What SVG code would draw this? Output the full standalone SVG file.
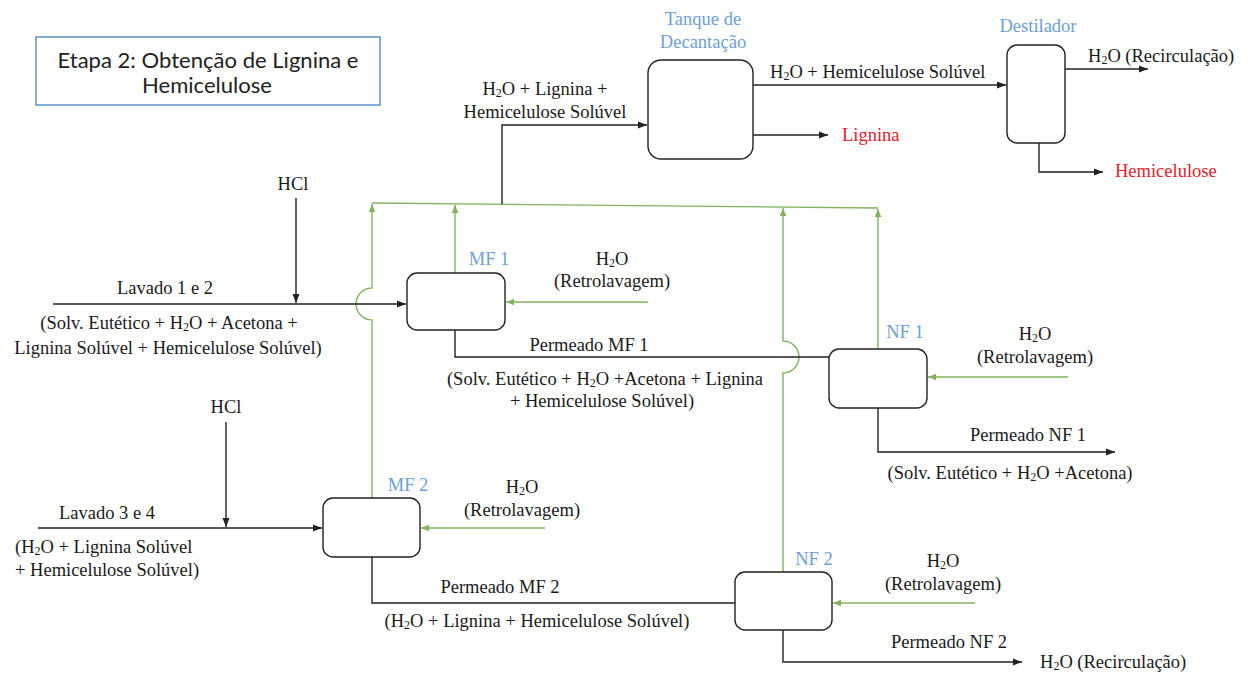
<svg xmlns="http://www.w3.org/2000/svg" width="1254" height="673" viewBox="0 0 1254 673">
<style>
text{font-family:"Liberation Serif","Times New Roman",serif;font-size:18.5px;fill:#1a1a1a}
.m{text-anchor:middle}
.sub{font-size:12px}
.blue{fill:#6c9fd6}
.red{fill:#e8202a}
.title{font-family:Lato,"Liberation Sans",sans-serif;font-size:21px;fill:#222}
.box{fill:#fff;stroke:#222;stroke-width:1.4}
.k{fill:none;stroke:#222;stroke-width:1.4}
.g{fill:none;stroke:#80b45c;stroke-width:1.4}
</style>
<defs>
<marker id="ak" markerUnits="userSpaceOnUse" markerWidth="10" markerHeight="8" refX="9" refY="4" orient="auto"><path d="M0,0.5 L9,4 L0,7.5 z" fill="#222"/></marker>
<marker id="ag" markerUnits="userSpaceOnUse" markerWidth="9" markerHeight="8" refX="8" refY="4" orient="auto"><path d="M0,0.8 L8,4 L0,7.2 z" fill="#80b45c"/></marker>
</defs>
<rect width="1254" height="673" fill="#fff"/>
<g id="connectors">
<path class="g" d="M372,203 L878,208"/>
<path class="g" d="M372,498 V320 A16,16 0 0 1 372,288 V204" marker-end="url(#ag)"/>
<path class="g" d="M455,273 V205" marker-end="url(#ag)"/>
<path class="g" d="M783,572 V373 A16,16 0 0 0 783,341 V208" marker-end="url(#ag)"/>
<path class="g" d="M878,349 V209" marker-end="url(#ag)"/>
<path class="g" d="M648,302 H506" marker-end="url(#ag)"/>
<path class="g" d="M1068,377 H928" marker-end="url(#ag)"/>
<path class="g" d="M545,528 H421" marker-end="url(#ag)"/>
<path class="g" d="M975,603 H833" marker-end="url(#ag)"/>
<path class="k" d="M53,304 H406" marker-end="url(#ak)"/>
<path class="k" d="M296,198 V303" marker-end="url(#ak)"/>
<path class="k" d="M38,528 H322" marker-end="url(#ak)"/>
<path class="k" d="M226,422 V527" marker-end="url(#ak)"/>
<path class="k" d="M455,330 V357 H829"/>
<path class="k" d="M878,408 V452 H1115" marker-end="url(#ak)"/>
<path class="k" d="M372,557 V603 H735"/>
<path class="k" d="M783,630 V662 H1022" marker-end="url(#ak)"/>
<path class="k" d="M502,204 V125 H647" marker-end="url(#ak)"/>
<path class="k" d="M753,85 H1006" marker-end="url(#ak)"/>
<path class="k" d="M753,135 H828" marker-end="url(#ak)"/>
<path class="k" d="M1065,69 H1148" marker-end="url(#ak)"/>
<path class="k" d="M1039,143 V172 H1103" marker-end="url(#ak)"/>
</g>
<g id="title">
<rect x="36" y="37" width="344" height="68" fill="#fff" stroke="#5b93c8" stroke-width="1.5"/>
<text class="title m" x="208" y="68" textLength="301" lengthAdjust="spacingAndGlyphs">Etapa 2: Obtenção de Lignina e</text>
<text class="title m" x="207" y="93" textLength="130" lengthAdjust="spacingAndGlyphs">Hemicelulose</text>
</g>
<g id="tanque">
<rect class="box" x="648" y="60" width="105" height="99" rx="13"/>
<text class="m blue" x="703" y="25">Tanque de</text>
<text class="m blue" x="703" y="48">Decantação</text>
</g>
<g id="destilador">
<rect class="box" x="1007" y="45" width="58" height="98" rx="10"/>
<text class="m blue" x="1038" y="32">Destilador</text>
</g>
<g id="mf1">
<rect class="box" x="407" y="273" width="98" height="57" rx="10"/>
<text class="m blue" x="489" y="265">MF 1</text>
</g>
<g id="nf1">
<rect class="box" x="829" y="349" width="98" height="59" rx="10"/>
<text class="m blue" x="905" y="338">NF 1</text>
</g>
<g id="mf2">
<rect class="box" x="323" y="498" width="97" height="59" rx="10"/>
<text class="m blue" x="408" y="491">MF 2</text>
</g>
<g id="nf2">
<rect class="box" x="735" y="572" width="97" height="58" rx="10"/>
<text class="m blue" x="814" y="565">NF 2</text>
</g>
<g id="labels">
<text class="m" x="545" y="95">H<tspan class="sub" dy="2">2</tspan><tspan dy="-2">O + Lignina +</tspan></text>
<text class="m" x="545" y="118">Hemicelulose Solúvel</text>
<text x="770" y="78">H<tspan class="sub" dy="2">2</tspan><tspan dy="-2">O + Hemicelulose Solúvel</tspan></text>
<text class="red" x="842" y="141">Lignina</text>
<text x="1088" y="62">H<tspan class="sub" dy="2">2</tspan><tspan dy="-2">O (Recirculação)</tspan></text>
<text class="red" x="1115" y="177">Hemicelulose</text>
<text class="m" x="293" y="190">HCl</text>
<text class="m" x="165" y="294">Lavado 1 e 2</text>
<text class="m" x="169" y="329">(Solv. Eutético + H<tspan class="sub" dy="2">2</tspan><tspan dy="-2">O + Acetona +</tspan></text>
<text class="m" x="168" y="354">Lignina Solúvel + Hemicelulose Solúvel)</text>
<text class="m" x="612" y="265">H<tspan class="sub" dy="2">2</tspan><tspan dy="-2">O</tspan></text>
<text class="m" x="612" y="287">(Retrolavagem)</text>
<text class="m" x="589" y="351">Permeado MF 1</text>
<text class="m" x="605" y="385">(Solv. Eutético + H<tspan class="sub" dy="2">2</tspan><tspan dy="-2">O +Acetona + Lignina</tspan></text>
<text class="m" x="602" y="407">+ Hemicelulose Solúvel)</text>
<text class="m" x="1035" y="340">H<tspan class="sub" dy="2">2</tspan><tspan dy="-2">O</tspan></text>
<text class="m" x="1035" y="363">(Retrolavagem)</text>
<text class="m" x="1028" y="441">Permeado NF 1</text>
<text class="m" x="1010" y="479">(Solv. Eutético + H<tspan class="sub" dy="2">2</tspan><tspan dy="-2">O +Acetona)</tspan></text>
<text class="m" x="226" y="413">HCl</text>
<text x="59" y="519">Lavado 3 e 4</text>
<text x="15" y="553">(H<tspan class="sub" dy="2">2</tspan><tspan dy="-2">O + Lignina Solúvel</tspan></text>
<text x="15" y="576">+ Hemicelulose Solúvel)</text>
<text class="m" x="522" y="493">H<tspan class="sub" dy="2">2</tspan><tspan dy="-2">O</tspan></text>
<text class="m" x="522" y="516">(Retrolavagem)</text>
<text class="m" x="500" y="593">Permeado MF 2</text>
<text class="m" x="537" y="627">(H<tspan class="sub" dy="2">2</tspan><tspan dy="-2">O + Lignina + Hemicelulose Solúvel)</tspan></text>
<text class="m" x="943" y="567">H<tspan class="sub" dy="2">2</tspan><tspan dy="-2">O</tspan></text>
<text class="m" x="943" y="590">(Retrolavagem)</text>
<text class="m" x="949" y="648">Permeado NF 2</text>
<text x="1040" y="668">H<tspan class="sub" dy="2">2</tspan><tspan dy="-2">O (Recirculação)</tspan></text>
</g>
</svg>
